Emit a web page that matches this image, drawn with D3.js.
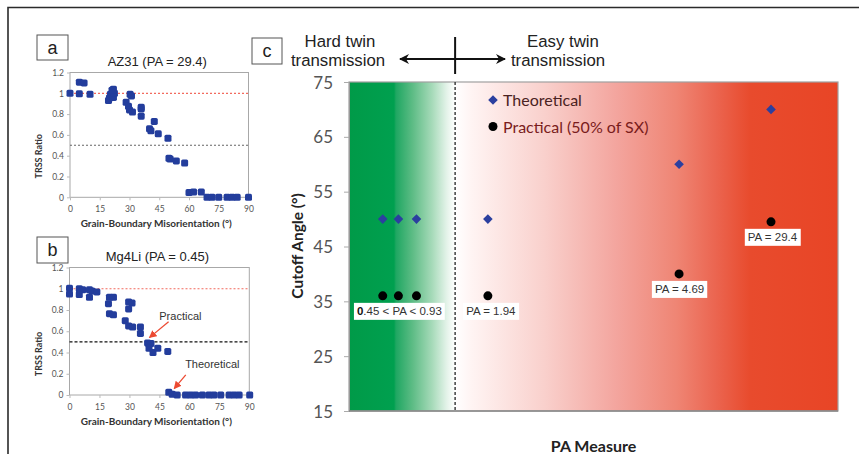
<!DOCTYPE html>
<html>
<head>
<meta charset="utf-8">
<script src="https://cdn.jsdelivr.net/npm/d3@7"></script>
<style>
  body { margin: 0; background: #fff; }
  svg { display: block; }
</style>
</head>
<body>
<div id="chart"></div>
<script>
const width = 859;
const height = 454;

// panel a - AZ31, TRSS ratio vs grain-boundary misorientation
const az31Angle = [0, 4.7, 7.1, 4.7, 10.1, 19.4, 19.9, 20.4, 21.9, 21.9, 22.4, 21.2,
  30.3, 31.0, 28.3, 29.5, 30.0, 31.5, 35.9, 35.9, 35.9, 40.1, 40.8, 42.5, 44.5,
  49.4, 49.9, 50.5, 53.6, 57.8, 60.0, 62.3, 66.2, 69.1, 71.6, 75.0, 79.2, 81.7, 84.3, 90.0];
const az31Ratio = [1.0, 1.107, 1.10, 0.995, 0.99, 0.93, 0.955, 0.99, 1.04, 0.96, 1.0, 1.03,
  0.99, 0.975, 0.913, 0.875, 0.84, 0.82, 0.865, 0.85, 0.78, 0.658, 0.64, 0.73, 0.61,
  0.568, 0.375, 0.368, 0.35, 0.33, 0.045, 0.05, 0.05, 0, 0, 0, 0, 0, 0, 0];

// panel b - Mg4Li
const mg4liAngle = [0, 0, 4.9, 6.6, 4.9, 10.0, 11.2, 10.0, 13.7, 20.0, 22.0, 19.5, 20.0, 22.0,
  29.6, 31.3, 29.6, 27.9, 29.6, 31.6, 35.5, 35.5, 39.1, 40.8, 39.8, 41.8, 44.2, 49.2,
  49.7, 51.4, 53.9, 58.1, 60.6, 63.1, 66.5, 69.8, 72.3, 75.7, 79.9, 82.4, 84.9, 90.2];
const mg4liRatio = [1.005, 0.95, 1.0, 0.99, 0.945, 0.99, 0.98, 0.92, 0.97, 0.92, 0.92, 0.86, 0.765, 0.755,
  0.875, 0.865, 0.81, 0.70, 0.65, 0.64, 0.64, 0.58, 0.49, 0.485, 0.44, 0.40, 0.44, 0.41,
  0.025, 0.007, 0, 0, 0, 0, 0, 0, 0, 0, 0, 0, 0, 0];

const misoTicks = [0, 15, 30, 45, 60, 75, 90];
const ratioTicks = [0, 0.2, 0.4, 0.6, 0.8, 1, 1.2];

// panel c - cutoff angle vs PA measure (position along the unlabelled PA axis)
const paRank = [6.9, 10.1, 13.8, 28.4, 67.5, 86.3];
const theoreticalCutoff = [50, 50, 50, 50, 60, 70];
const practicalCutoff = [36, 36, 36, 36, 40, 49.5];
const paLabelText = ["0.45 < PA < 0.93", "PA = 1.94", "PA = 4.69", "PA = 29.4"];
const paLabelRank = [10.3, 29.0, 67.6, 86.6];
const paLabelCutoff = [36, 36, 40, 49.5];
const hardEasyBoundary = 21.7;
const cutoffTicks = [15, 25, 35, 45, 55, 65, 75];

const blue = "#233d9c";
const red = "#ec4a32";

const svg = d3.select("#chart").append("svg")
  .attr("width", width).attr("height", height)
  .style("font-family", "Lato, 'Open Sans', sans-serif");

svg.append("rect").attr("width", width).attr("height", height).attr("fill", "#fff");

// outer frame (only top and left edges are inside the picture)
svg.append("path").attr("d", "M8,460 V7.5 H870").attr("fill", "none")
  .attr("stroke", "#2b2b2b").attr("stroke-width", 1.6);

const defs = svg.append("defs");
defs.append("marker").attr("id", "redArrow")
  .attr("viewBox", "0 0 10 10").attr("refX", 9).attr("refY", 5)
  .attr("markerWidth", 6).attr("markerHeight", 6).attr("orient", "auto")
  .append("path").attr("d", "M0,0 L10,5 L0,10 z").attr("fill", red);
defs.append("marker").attr("id", "blackArrow")
  .attr("viewBox", "0 0 10 10").attr("refX", 9).attr("refY", 5)
  .attr("markerWidth", 5).attr("markerHeight", 5).attr("orient", "auto")
  .append("path").attr("d", "M0,0 L10,5 L0,10 L3,5 z").attr("fill", "#111");

function letterBox(x, y, w, h, letter) {
  svg.append("rect").attr("x", x).attr("y", y).attr("width", w).attr("height", h)
    .attr("fill", "#fff").attr("stroke", "#555").attr("stroke-width", 1);
  svg.append("text").attr("x", x + w / 2).attr("y", y + h / 2 + 6)
    .attr("text-anchor", "middle").attr("font-family", "'Liberation Sans', Arial, sans-serif")
    .attr("font-size", 18).attr("fill", "#222").text(letter);
}

function drawRatioPanel(opts) {
  const x = d3.scaleLinear().domain([0, 90]).range(opts.xRange);
  const y = d3.scaleLinear().domain([0, 1.2]).range(opts.yRange);
  const g = svg.append("g");

  g.append("rect")
    .attr("x", x(0)).attr("y", y(1.2))
    .attr("width", x(90) - x(0)).attr("height", y(0) - y(1.2))
    .attr("fill", "#fff").attr("stroke", "#a8a8a8").attr("stroke-width", 1);

  const yAxis = d3.axisLeft(y).tickValues(ratioTicks).tickSize(3).tickPadding(3)
    .tickFormat(d => d3.format("")(+d.toFixed(1)));
  g.append("g").attr("transform", `translate(${x(0)},0)`).call(yAxis)
    .call(a => a.select(".domain").remove())
    .call(a => a.selectAll("line").attr("stroke", "#bbb"))
    .call(a => a.selectAll("text").attr("font-size", 8.5).attr("fill", "#555")
      .attr("font-family", "Lato, sans-serif"));

  const xAxis = d3.axisBottom(x).tickValues(misoTicks).tickSize(3).tickPadding(6);
  g.append("g").attr("transform", `translate(0,${y(0)})`).call(xAxis)
    .call(a => a.select(".domain").remove())
    .call(a => a.selectAll("line").attr("stroke", "#bbb"))
    .call(a => a.selectAll("text").attr("font-size", 8.5).attr("fill", "#555")
      .attr("font-family", "Lato, sans-serif"));

  // reference lines at ratio 1 and 0.5
  g.append("line").attr("x1", x(0)).attr("x2", x(90)).attr("y1", y(1)).attr("y2", y(1))
    .attr("stroke", "#f26a5e").attr("stroke-width", 1.2).attr("stroke-dasharray", "2,2");
  g.append("line").attr("x1", x(0)).attr("x2", x(90)).attr("y1", y(0.5)).attr("y2", y(0.5))
    .attr("stroke", opts.halfColor).attr("stroke-width", 1.1).attr("stroke-dasharray", opts.halfDash);

  const pts = d3.zip(opts.angle, opts.ratio);
  g.selectAll("rect.pt").data(pts).enter().append("rect").attr("class", "pt")
    .attr("x", d => x(d[0]) - 3.5).attr("y", d => y(d[1]) - 3.5)
    .attr("width", 7).attr("height", 7).attr("rx", 1.6)
    .attr("fill", blue);

  g.append("text").attr("x", (x(0) + x(90)) / 2 - 2).attr("y", y(1.2) - 7)
    .attr("text-anchor", "middle").attr("font-family", "'Liberation Sans', Arial, sans-serif")
    .attr("font-size", 13).attr("fill", "#222").text(opts.title);

  g.append("text").attr("x", (x(0) + x(90)) / 2 - 3).attr("y", y(0) + 30)
    .attr("text-anchor", "middle").attr("font-weight", "bold")
    .attr("font-size", 10).attr("fill", "#333")
    .text("Grain-Boundary Misorientation (°)");

  g.append("text").attr("transform", `translate(42,${y(0) - 41}) rotate(-90)`)
    .attr("text-anchor", "middle").attr("font-weight", "bold")
    .attr("font-size", 9).attr("fill", "#333").text("TRSS Ratio");

  return { x, y };
}

letterBox(37, 35, 31, 25, "a");
drawRatioPanel({
  xRange: [70, 248.5], yRange: [197.3, 72.5],
  angle: az31Angle, ratio: az31Ratio, title: "AZ31 (PA = 29.4)",
  halfColor: "#666", halfDash: "2,2"
});

letterBox(37, 237, 31, 26, "b");
const pb = drawRatioPanel({
  xRange: [69.5, 249.3], yRange: [395, 267.5],
  angle: mg4liAngle, ratio: mg4liRatio, title: "Mg4Li (PA = 0.45)",
  halfColor: "#111", halfDash: "3,2"
});

// annotations in panel b
function annotate(text, tx, ty, ax1, ay1, ax2, ay2) {
  svg.append("text").attr("x", pb.x(tx)).attr("y", pb.y(ty))
    .attr("text-anchor", "middle").attr("font-family", "'Liberation Sans', Arial, sans-serif")
    .attr("font-size", 11).attr("fill", "#333").text(text);
  svg.append("line")
    .attr("x1", pb.x(ax1)).attr("y1", pb.y(ay1)).attr("x2", pb.x(ax2)).attr("y2", pb.y(ay2))
    .attr("stroke", red).attr("stroke-width", 1.3).attr("marker-end", "url(#redArrow)");
}
annotate("Practical", 55.5, 0.71, 49.6, 0.69, 40.0, 0.54);
annotate("Theoretical", 71.5, 0.255, 58.2, 0.19, 52.4, 0.06);

// panel c
letterBox(252, 38, 30, 26, "c");

const xc = d3.scaleLinear().domain([0, 100]).range([349, 838]);
const yc = d3.scaleLinear().domain([15, 75]).range([411, 82]);

const grad = defs.append("linearGradient").attr("id", "paGradient")
  .attr("x1", "0%").attr("x2", "100%").attr("y1", "0%").attr("y2", "0%");
[
  [0, "#009a48"], [9.2, "#00a04f"], [9.6, "#1fa762"], [13, "#5dbc85"],
  [17, "#a6dab9"], [20, "#e4f3e9"], [21.7, "#ffffff"], [25, "#fff4f3"],
  [40, "#f9d0cc"], [55, "#f3a49d"], [67, "#ef8574"], [75, "#eb6550"],
  [82, "#e84b2d"], [100, "#e84526"]
].forEach(([o, c]) => grad.append("stop").attr("offset", o + "%").attr("stop-color", c));

svg.append("rect")
  .attr("x", xc(0)).attr("y", yc(75))
  .attr("width", xc(100) - xc(0)).attr("height", yc(15) - yc(75))
  .attr("fill", "url(#paGradient)").attr("stroke", "#a0a0a0").attr("stroke-width", 1.2);

const yAxisC = d3.axisLeft(yc).tickValues(cutoffTicks).tickSize(5).tickPadding(11);
svg.append("g").attr("transform", `translate(${xc(0)},0)`).call(yAxisC)
  .call(a => a.select(".domain").attr("stroke", "#999"))
  .call(a => a.selectAll("line").attr("stroke", "#aaa"))
  .call(a => a.selectAll("text").attr("font-size", 17).attr("fill", "#555")
    .attr("font-family", "Lato, sans-serif").attr("dy", "0.36em"));

svg.append("line").attr("x1", xc(0)).attr("x2", xc(100)).attr("y1", yc(15)).attr("y2", yc(15))
  .attr("stroke", "#888").attr("stroke-width", 1.5);

// hard / easy boundary
svg.append("line").attr("x1", xc(hardEasyBoundary)).attr("x2", xc(hardEasyBoundary))
  .attr("y1", yc(75)).attr("y2", yc(15))
  .attr("stroke", "#333").attr("stroke-width", 1.4).attr("stroke-dasharray", "3,2");

svg.append("line").attr("x1", xc(hardEasyBoundary)).attr("x2", xc(hardEasyBoundary))
  .attr("y1", 37).attr("y2", 74).attr("stroke", "#111").attr("stroke-width", 2);
svg.append("line").attr("x1", xc(hardEasyBoundary)).attr("x2", 400).attr("y1", 59).attr("y2", 59)
  .attr("stroke", "#111").attr("stroke-width", 2).attr("marker-end", "url(#blackArrow)");
svg.append("line").attr("x1", xc(hardEasyBoundary)).attr("x2", 505).attr("y1", 59).attr("y2", 59)
  .attr("stroke", "#111").attr("stroke-width", 2).attr("marker-end", "url(#blackArrow)");

const headerFont = "'Liberation Sans', Arial, sans-serif";
[["Hard twin", 340, 46.5], ["transmission", 338, 65.5], ["Easy twin", 563, 46.5], ["transmission", 558, 65.5]]
  .forEach(([t, x, y]) => svg.append("text").attr("x", x).attr("y", y)
    .attr("text-anchor", "middle").attr("font-family", headerFont)
    .attr("font-size", 16.8).attr("fill", "#222").text(t));

// label boxes
paLabelText.forEach((t, i) => {
  const cx = xc(paLabelRank[i]);
  const cy = yc(paLabelCutoff[i]) + 15;
  const txt = svg.append("text").attr("x", cx).attr("y", cy + 4)
    .attr("text-anchor", "middle").attr("font-family", headerFont)
    .attr("font-size", 11.5).attr("fill", "#333");
  if (i === 0) {
    txt.append("tspan").attr("font-weight", "bold").attr("fill", "#111").text(t.slice(0, 1));
    txt.append("tspan").text(t.slice(1));
  } else {
    txt.text(t);
  }
  const bb = txt.node().getBBox();
  svg.insert("rect", () => txt.node())
    .attr("x", bb.x - 3).attr("y", cy - 8).attr("width", bb.width + 6).attr("height", 17)
    .attr("fill", "#fff");
});

// diamonds: a square turned by 45 degrees
const diamond = d3.symbol().type(d3.symbolSquare).size(46);
svg.selectAll("path.theo").data(d3.zip(paRank, theoreticalCutoff)).enter()
  .append("path").attr("class", "theo")
  .attr("d", diamond)
  .attr("transform", d => `translate(${xc(d[0])},${yc(d[1])}) rotate(45)`)
  .attr("fill", "#2b3f9f");

svg.selectAll("circle.prac").data(d3.zip(paRank, practicalCutoff)).enter()
  .append("circle").attr("class", "prac")
  .attr("cx", d => xc(d[0])).attr("cy", d => yc(d[1])).attr("r", 4.5)
  .attr("fill", "#000");

// legend
svg.append("path").attr("d", diamond)
  .attr("transform", `translate(493,100) rotate(45)`).attr("fill", "#2b3f9f");
svg.append("circle").attr("cx", 493).attr("cy", 126.5).attr("r", 4.5).attr("fill", "#000");
svg.append("text").attr("x", 503).attr("y", 106).attr("font-size", 16)
  .attr("fill", "#4a2222").text("Theoretical");
svg.append("text").attr("x", 503).attr("y", 133).attr("font-size", 16)
  .attr("fill", "#7a1c1c").text("Practical (50% of SX)");

// axis titles
svg.append("text").attr("transform", `translate(303,246) rotate(-90)`)
  .attr("text-anchor", "middle").attr("font-weight", "bold").attr("font-size", 15.5)
  .attr("fill", "#222").text("Cutoff  Angle (°)");
svg.append("text").attr("x", xc(50)).attr("y", 452)
  .attr("text-anchor", "middle").attr("font-weight", "bold").attr("font-size", 16)
  .attr("fill", "#222").text("PA Measure");
</script>
</body>
</html>
